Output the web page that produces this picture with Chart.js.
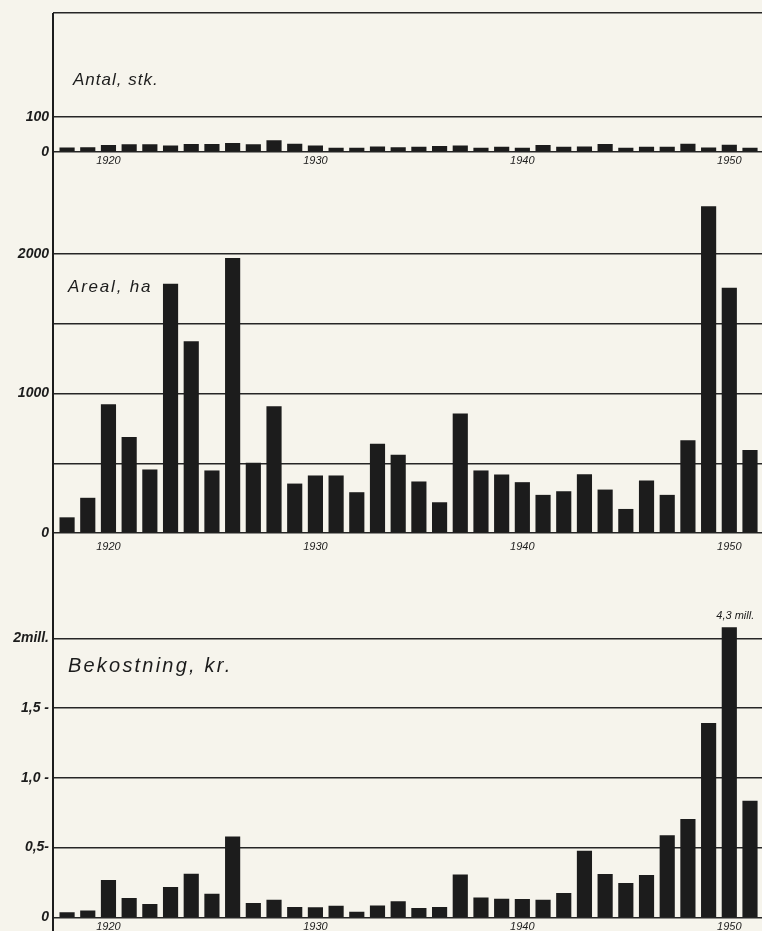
<!DOCTYPE html>
<html>
<head>
<meta charset="utf-8">
<script src="https://cdn.jsdelivr.net/npm/chart.js@4.4.1/dist/chart.umd.min.js"></script>
<style>
    html, body { margin: 0; padding: 0; background: #f6f4ec; }
    .panel { position: absolute; left: 0; width: 762px; }
</style>
</head>
<body>
<div class="panel" style="top:0;height:178px"><canvas id="antalChart"></canvas></div>
<div class="panel" style="top:178px;height:378px"><canvas id="arealChart"></canvas></div>
<div class="panel" style="top:556px;height:375px"><canvas id="bekostningChart"></canvas></div>
<script>
// years 1918 - 1951
const years = [1918, 1919, 1920, 1921, 1922, 1923, 1924, 1925, 1926, 1927, 1928, 1929,
               1930, 1931, 1932, 1933, 1934, 1935, 1936, 1937, 1938, 1939, 1940, 1941,
               1942, 1943, 1944, 1945, 1946, 1947, 1948, 1949, 1950, 1951];

// Antal, stk.
const antal = [11, 12, 18, 20, 20, 17, 21, 21, 24, 20, 32, 22,
               17, 10, 10, 14, 12, 13, 15, 17, 10, 13, 10, 18,
               13, 14, 21, 10, 13, 13, 22, 11, 19, 10];

// Areal, ha
const areal = [110, 250, 920, 685, 453, 1785, 1372, 446, 1969, 501, 906, 352,
               410, 410, 290, 638, 559, 367, 218, 854, 446, 417, 362, 271,
               297, 419, 309, 170, 374, 271, 662, 2340, 1755, 592];

// Bekostning, mill. kr. (1950 = 4,3 mill., bar is cut off at the top)
const bekostning = [0.033, 0.047, 0.265, 0.136, 0.093, 0.215, 0.31, 0.167, 0.576, 0.10, 0.124, 0.072,
                    0.069, 0.081, 0.038, 0.083, 0.112, 0.065, 0.072, 0.305, 0.14, 0.131, 0.129, 0.124,
                    0.172, 0.475, 0.308, 0.244, 0.301, 0.585, 0.703, 1.39, 4.3, 0.834];
const bekostningCap = 2.076;

const yearTicks = [1920, 1930, 1940, 1950];
// 396 = axis top of the first panel, drawn as the frame line
const antalTicks = { 0: '0', 100: '100', 396: '' };
const arealTicks = { 0: '0', 500: '', 1000: '1000', 1500: '', 2000: '2000' };
const bekostningTicks = { 0: '0', 0.5: '0,5-', 1: '1,0 -', 1.5: '1,5 -', 2: '2mill.' };

const INK = '#1c1c1c';

// continuous left axis line + panel title
const framePlugin = {
    id: 'frame',
    afterDraw(chart, args, opts) {
        const ctx = chart.ctx;
        const a = chart.chartArea;
        ctx.save();
        ctx.strokeStyle = INK;
        ctx.lineWidth = 2;
        ctx.beginPath();
        ctx.moveTo(a.left, opts.fromTop ? a.top : 0);
        ctx.lineTo(a.left, chart.height);
        ctx.stroke();
        ctx.fillStyle = INK;
        ctx.font = opts.font;
        ctx.letterSpacing = opts.spacing || '0px';
        ctx.textBaseline = 'alphabetic';
        ctx.fillText(opts.title, opts.x, opts.y);
        if (opts.note) {
            const xs = chart.scales.x, ys = chart.scales.y;
            ctx.font = 'italic 11px "Liberation Sans"';
            ctx.letterSpacing = '0px';
            ctx.textAlign = 'center';
            ctx.fillText(opts.note.text, xs.getPixelForValue(opts.note.x) + 6, ys.getPixelForValue(opts.note.y) - 9);
        }
        ctx.restore();
    }
};

function makeChart(id, values, yMax, tickMap, xHeight, xPad, frame) {
    return new Chart(document.getElementById(id), {
        type: 'bar',
        data: {
            datasets: [{
                data: years.map((yr, i) => ({ x: yr, y: values[i] })),
                backgroundColor: INK,
                borderWidth: 0,
                barThickness: 14.5
            }]
        },
        options: {
            responsive: true,
            maintainAspectRatio: false,
            animation: false,
            layout: { padding: { top: frame.padTop, right: 0, left: 0, bottom: 0 } },
            plugins: {
                legend: { display: false },
                tooltip: { enabled: false },
                frame: frame
            },
            scales: {
                x: {
                    type: 'linear',
                    min: 1917.32,
                    max: 1951.58,
                    offset: false,
                    grid: { display: false, drawTicks: false, offset: false },
                    border: { display: false },
                    afterBuildTicks: (s) => { s.ticks = yearTicks.map(v => ({ value: v })); },
                    afterFit: (s) => { s.height = xHeight; s.paddingLeft = 0; s.paddingRight = 0; },
                    ticks: {
                        padding: xPad,
                        maxRotation: 0,
                        color: INK,
                        font: { family: 'Liberation Sans', size: 11, style: 'italic' },
                        callback: (v) => String(v)
                    }
                },
                y: {
                    min: 0,
                    max: yMax,
                    grid: { color: '#262626', lineWidth: 1.5, drawTicks: false },
                    border: { display: false },
                    afterBuildTicks: (s) => { s.ticks = Object.keys(tickMap).map(v => ({ value: Number(v) })); },
                    afterFit: (s) => { s.width = 53; s.paddingTop = 0; s.paddingBottom = 0; },
                    ticks: {
                        padding: 4,
                        color: INK,
                        font: { family: 'Liberation Sans', size: 14, style: 'italic', weight: 'bold' },
                        callback: (v) => tickMap[v] !== undefined ? tickMap[v] : ''
                    }
                }
            }
        },
        plugins: [framePlugin]
    });
}

makeChart('antalChart', antal, 396, antalTicks, 26.3, 3, {
    padTop: 13, fromTop: true, title: 'Antal, stk.', x: 73, y: 85,
    font: 'italic 17px "Liberation Sans"', spacing: '1px'
});

makeChart('arealChart', areal, 2545, arealTicks, 23, 7, {
    padTop: 0, fromTop: false, title: 'Areal, ha', x: 68, y: 114,
    font: 'italic 17px "Liberation Sans"', spacing: '1.8px'
});

makeChart('bekostningChart', bekostning.map(v => Math.min(v, bekostningCap)), 2.59, bekostningTicks, 13.7, 3, {
    padTop: 0, fromTop: false, title: 'Bekostning, kr.', x: 68, y: 116,
    font: 'italic 20px "Liberation Sans"', spacing: '2.2px',
    note: { text: '4,3 mill.', x: 1950, y: bekostningCap }
});
</script>
</body>
</html>
